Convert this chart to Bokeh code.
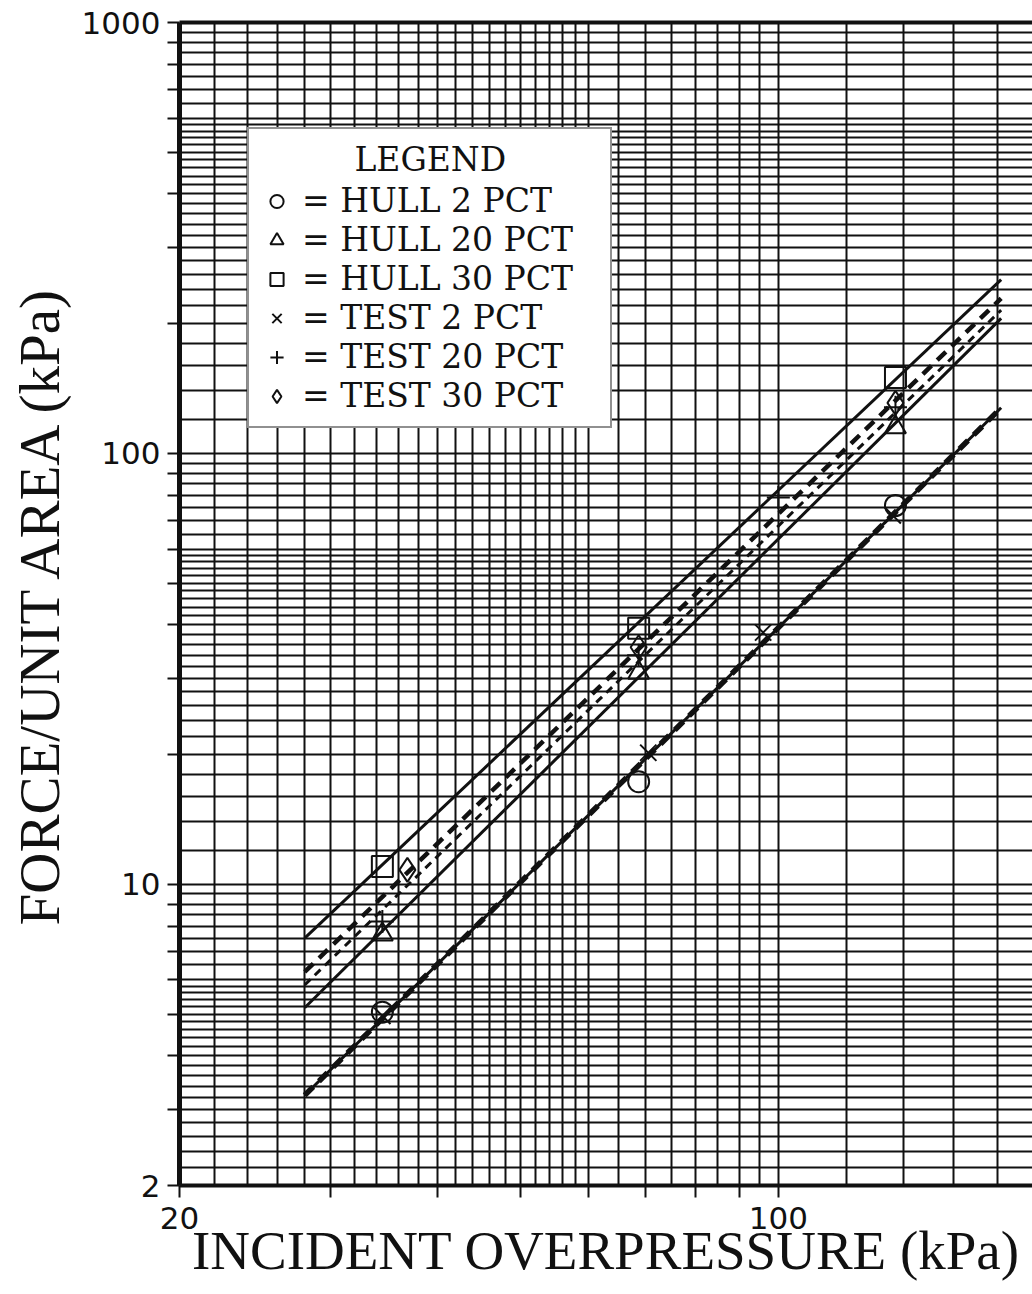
import numpy as np
from bokeh.plotting import figure
from bokeh.models import (Range1d, LogAxis, FixedTicker, CustomJSTickFormatter,
                          Legend, LegendItem)
from bokeh.embed import file_html
from bokeh.resources import INLINE

# ---------------- data ----------------
hull2_x = [34.5, 68.7, 137.0]
hull2_y = [5.05, 17.3, 75.7]
hull20_x = [34.5, 68.7, 137.0]
hull20_y = [7.65, 31.0, 115.0]
hull30_x = [34.5, 68.7, 137.0]
hull30_y = [11.0, 39.3, 150.0]
test2_x = [34.5, 70.5, 96.0, 136.0]
test2_y = [4.95, 20.2, 38.4, 71.8]
test20_x = [34.5, 68.7, 100.0, 137.0]
test20_y = [8.2, 34.0, 79.0, 128.0]
test30_x = [36.9, 68.7, 137.0]
test30_y = [10.8, 35.5, 131.0]

# fitted lines (end points)
fit_x = [28.0, 182.0]
fit_hull30_y = [7.50, 253.0]
fit_test30_y = [6.26, 229.0]
fit_test20_y = [5.84, 215.0]
fit_hull20_y = [5.17, 205.7]
fit_hull2_y = [3.24, 127.6]
fit_test2_y = [3.24, 127.6]

legend_title = "LEGEND"
legend_labels = ["= HULL 2 PCT", "= HULL 20 PCT", "= HULL 30 PCT",
                 "= TEST 2 PCT", "= TEST 20 PCT", "= TEST 30 PCT"]

x_major = [20, 30, 40, 50, 60, 70, 80, 90, 100, 200]
x_labeled = [20, 100]
y_major = [2, 3, 4, 5, 6, 7, 8, 9, 10, 20, 30, 40, 50, 60, 70, 80, 90,
           100, 200, 300, 400, 500, 600, 700, 800, 900, 1000]
y_labeled = [2, 10, 100, 1000]


def paper_lines(decades, lo, hi):
    vals = []
    for d in decades:
        for k in range(26):
            vals.append(d * (1.0 + 0.2 * k))
        for k in range(1, 9):
            vals.append(d * (6.0 + 0.5 * k))
    vals = sorted(set(round(v, 6) for v in vals))
    return [v for v in vals if lo <= v <= hi]


grid_x = paper_lines([10, 100], 20, 200)
grid_y = paper_lines([1, 10, 100], 2, 1000)

INK = "#111111"

p = figure(width=1032, height=1294, x_axis_type="log", y_axis_type="log",
           x_range=Range1d(20, 198), y_range=Range1d(2, 1000),
           output_backend="svg", toolbar_location=None,
           min_border_left=179, min_border_right=0, min_border_top=22,
           min_border_bottom=109)
p.outline_line_color = None
p.background_fill_color = "white"
p.border_fill_color = "white"

# grid (log paper)
p.xgrid[0].ticker = FixedTicker(ticks=grid_x)
p.ygrid[0].ticker = FixedTicker(ticks=grid_y)
for g in (p.xgrid[0], p.ygrid[0]):
    g.grid_line_color = INK
    g.grid_line_width = 2.0
    g.grid_line_alpha = 1.0

# x axis
xa = p.xaxis[0]
xa.ticker = FixedTicker(ticks=x_major, minor_ticks=[])
xa.formatter = CustomJSTickFormatter(args=dict(shown=x_labeled),
                                     code="return shown.includes(tick) ? String(tick) : ''")
xa.axis_label = "INCIDENT OVERPRESSURE (kPa)"
xa.axis_label_text_font = "Liberation Serif"
xa.axis_label_text_font_size = "55px"
xa.axis_label_text_font_style = "normal"
xa.axis_label_text_color = INK
xa.axis_label_standoff = -12
xa.major_label_text_font = "DejaVu Sans"
xa.major_label_text_font_size = "31px"
xa.major_label_text_color = INK
xa.major_label_standoff = 9
xa.major_tick_out = 12
xa.major_tick_in = 0
xa.major_tick_line_width = 2
xa.major_tick_line_color = INK
xa.minor_tick_line_color = None
xa.axis_line_width = 4
xa.axis_line_color = INK

# y axis
ya = p.yaxis[0]
ya.ticker = FixedTicker(ticks=y_major, minor_ticks=[])
ya.formatter = CustomJSTickFormatter(args=dict(shown=y_labeled),
                                     code="return shown.includes(tick) ? String(tick) : ''")
ya.axis_label = "FORCE/UNIT AREA (kPa)"
ya.axis_label_text_font = "Liberation Serif"
ya.axis_label_text_font_size = "57px"
ya.axis_label_text_font_style = "normal"
ya.axis_label_text_color = INK
ya.axis_label_standoff = 8
ya.major_label_text_font = "DejaVu Sans"
ya.major_label_text_font_size = "31px"
ya.major_label_text_color = INK
ya.major_label_standoff = 7
ya.major_tick_out = 12
ya.major_tick_in = 0
ya.major_tick_line_width = 2
ya.major_tick_line_color = INK
ya.minor_tick_line_color = None
ya.axis_line_width = 5
ya.axis_line_color = INK

# top border as an empty axis
top = LogAxis(ticker=FixedTicker(ticks=[], minor_ticks=[]), axis_line_width=4,
              axis_line_color=INK, major_tick_line_color=None,
              minor_tick_line_color=None, major_label_text_font_size="0px",
              major_tick_out=0, major_label_standoff=0)
p.add_layout(top, "above")

# fitted lines
p.line(fit_x, fit_hull30_y, line_color=INK, line_width=3)
p.line(fit_x, fit_test30_y, line_color=INK, line_width=4.5, line_dash="12 8")
p.line(fit_x, fit_test20_y, line_color=INK, line_width=3, line_dash="8 6")
p.line(fit_x, fit_hull20_y, line_color=INK, line_width=3)
p.line(fit_x, fit_hull2_y, line_color=INK, line_width=3)
p.line(fit_x, fit_test2_y, line_color=INK, line_width=5.5, line_dash="12 8")

# data points
mk = dict(fill_color=None, line_color=INK, line_width=2)
r1 = p.scatter(hull2_x, hull2_y, marker="circle", size=21, **mk)
r2 = p.scatter(hull20_x, hull20_y, marker="triangle", size=21, **mk)
r3 = p.scatter(hull30_x, hull30_y, marker="square", size=21, **mk)
r4 = p.scatter(test2_x, test2_y, marker="x", size=23, **mk)
r5 = p.scatter(test20_x, test20_y, marker="cross", size=23, **mk)
r6 = p.scatter(test30_x, test30_y, marker="diamond", size=24, **mk)

# the legend title is indented with no-break spaces so that it sits centred
legend = Legend(items=[LegendItem(label=l, renderers=[r])
                       for l, r in zip(legend_labels, [r1, r2, r3, r4, r5, r6])],
                location=(68, 757), title="\u00a0" * 9 + legend_title,
                title_text_font="DejaVu Serif", title_text_font_size="33px",
                title_text_font_style="normal", title_text_color=INK,
                title_standoff=2,
                label_text_font="DejaVu Serif", label_text_font_size="33px",
                label_text_color=INK,
                glyph_width=33, glyph_height=34, label_height=34, label_width=297,
                label_standoff=9, spacing=0, padding=11, margin=0,
                border_line_color="#222222", border_line_width=2,
                background_fill_color="white", background_fill_alpha=1.0)
p.add_layout(legend)

open("out.html", "w").write(file_html(p, INLINE))
